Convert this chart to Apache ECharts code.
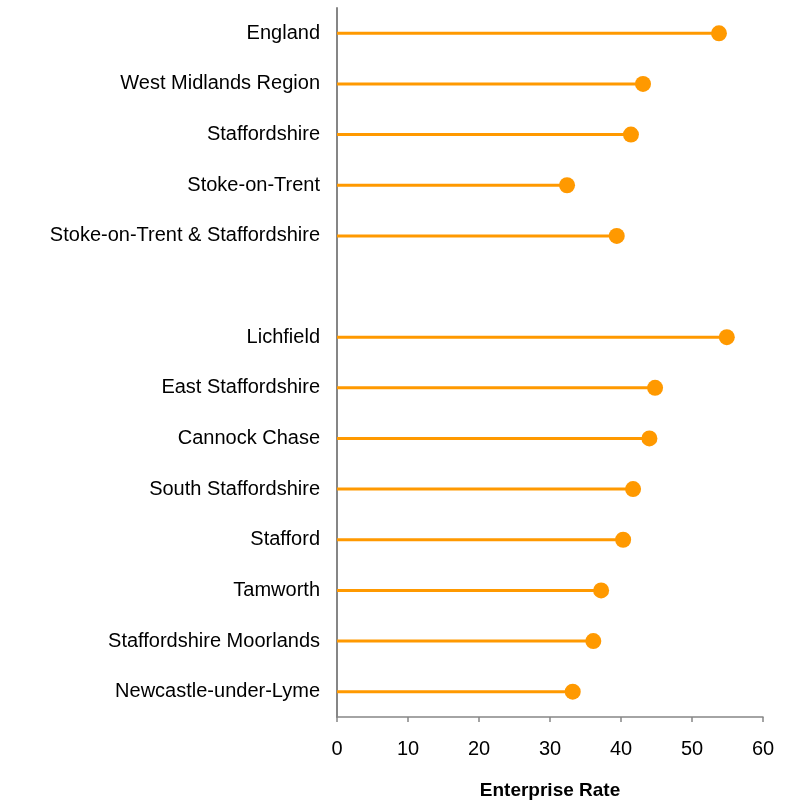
<!DOCTYPE html>
<html><head><meta charset="utf-8">
<script src="https://cdn.jsdelivr.net/npm/echarts@6/dist/echarts.min.js"></script>
<style>html,body{margin:0;padding:0;background:#fff}#c{width:785px;height:805px}</style>
</head><body><div id="c"></div>
<script>
const categories = ["England","West Midlands Region","Staffordshire","Stoke-on-Trent","Stoke-on-Trent & Staffordshire","","Lichfield","East Staffordshire","Cannock Chase","South Staffordshire","Stafford","Tamworth","Staffordshire Moorlands","Newcastle-under-Lyme"];
const enterpriseRate = [53.8,43.1,41.4,32.4,39.4,null,54.9,44.8,44.0,41.7,40.3,37.2,36.1,33.2];
const xTicks = [0,10,20,30,40,50,60];
const orange = '#FF9900';
const chart = echarts.init(document.getElementById('c'), null, {renderer:'canvas'});
chart.setOption({
  animation:false,
  grid:{left:337,right:22,top:8,bottom:85,containLabel:false},
  xAxis:{type:'value',min:xTicks[0],max:xTicks[xTicks.length-1],interval:10,
    name:'Enterprise Rate',nameLocation:'middle',nameGap:64,
    nameTextStyle:{fontFamily:'Liberation Sans, Arial',fontSize:19,fontWeight:'bold',color:'#000'},
    axisLine:{show:true,lineStyle:{color:'#868686',width:1.5}},
    axisTick:{show:true,length:5,lineStyle:{color:'#868686',width:1.5}},
    axisLabel:{fontFamily:'Liberation Sans, Arial',fontSize:20,color:'#000',margin:22},
    splitLine:{show:false}},
  yAxis:{type:'category',data:categories,inverse:true,
    axisLine:{show:true,lineStyle:{color:'#868686',width:2}},
    axisTick:{show:false},
    axisLabel:{fontFamily:'Liberation Sans, Arial',fontSize:20,color:'#000',margin:17,padding:[10,0,0,0]}},
  series:[
    {type:'bar',data:enterpriseRate,barWidth:3,itemStyle:{color:orange},silent:true},
    {type:'scatter',data:enterpriseRate,symbol:'circle',symbolSize:16,itemStyle:{color:orange,opacity:1},z:3}
  ]
});
</script></body></html>
